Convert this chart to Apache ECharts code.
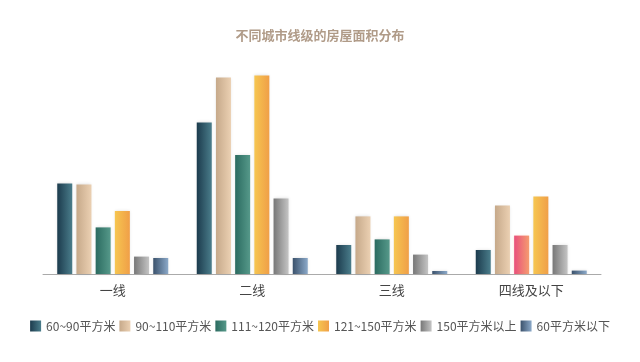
<!DOCTYPE html>
<html>
<head>
<meta charset="utf-8">
<script src="https://cdn.jsdelivr.net/npm/echarts@6/dist/echarts.min.js"></script>
<style>html,body{margin:0;padding:0;background:#fff}#c{width:640px;height:362px}</style>
</head>
<body>
<div id="c"></div>
<script>
var categories = ['一线', '二线', '三线', '四线及以下'];
var seriesNames = ['60~90平方米', '90~110平方米', '111~120平方米', '121~150平方米', '150平方米以上', '60平方米以下'];
var s60to90 = [45.3, 75.8, 14.5, 12.0];
var s90to110 = [44.8, 98.2, 28.8, 34.2];
var s111to120 = [23.3, 59.5, 17.3, 19.2];
var s121to150 = [31.5, 99.3, 28.8, 38.7];
var s150plus = [8.7, 37.8, 9.7, 14.5];
var sUnder60 = [8.0, 8.0, 1.5, 1.7];
var seriesData = [s60to90, s90to110, s111to120, s121to150, s150plus, sUnder60];

var gradients = [
  ['#1c3b4d', '#4a7d8b'],
  ['#c6a98a', '#ebd0b2'],
  ['#2b6b60', '#56998a'],
  ['#f6c650', '#f09f48'],
  ['#777777', '#c4c4c4'],
  ['#3b526c', '#8ba9c9']
];
var highlight = ['#e8507c', '#f59c70'];

function grad(c) {
  return new echarts.graphic.LinearGradient(0, 0, 1, 0, [
    { offset: 0, color: c[0] }, { offset: 1, color: c[1] }
  ]);
}

var series = seriesNames.map(function (name, i) {
  var data = seriesData[i].map(function (v, j) {
    if (i === 2 && j === 3) {
      return { value: v, itemStyle: { color: grad(highlight), shadowColor: 'rgba(245,156,112,0.5)' } };
    }
    return v;
  });
  return {
    name: name,
    type: 'bar',
    barWidth: 15,
    barGap: '28%',
    data: data,
    itemStyle: {
      color: grad(gradients[i]),
      shadowColor: 'rgba(0,0,0,0.12)',
      shadowBlur: 3
    }
  };
});

var chart = echarts.init(document.getElementById('c'));
chart.setOption({
  animation: false,
  title: {
    text: '不同城市线级的房屋面积分布',
    left: 'center',
    top: 24,
    textStyle: { color: '#b09b88', fontSize: 13, fontWeight: 'bold', fontFamily: 'Noto Sans CJK SC' }
  },
  legend: {
    data: seriesNames.map(function (n) { return { name: n, icon: 'rect' }; }),
    bottom: 25,
    left: 'center',
    itemWidth: 11,
    itemHeight: 11,
    itemGap: 4,
    textStyle: { color: '#555', fontSize: 12, fontFamily: 'Noto Sans CJK SC' }
  },
  grid: { left: 43, right: 39, top: 54, bottom: 88 },
  xAxis: {
    type: 'category',
    data: categories,
    axisLine: { lineStyle: { color: '#aaaaaa' } },
    axisTick: { show: false },
    axisLabel: { color: '#444', fontSize: 13, margin: 10, fontFamily: 'Noto Sans CJK SC' }
  },
  yAxis: {
    type: 'value',
    min: 0,
    max: 110,
    show: false,
    splitLine: { show: false }
  },
  series: series
});
</script>
</body>
</html>
